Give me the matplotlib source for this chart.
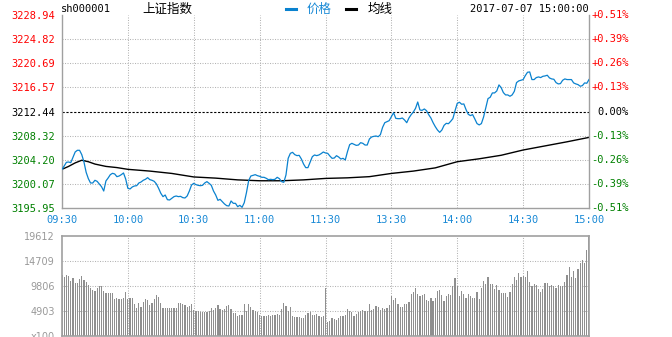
import numpy as np
import matplotlib.pyplot as plt
from matplotlib.lines import Line2D

W, H = 672, 337

price_ticks = [3195.95, 3200.07, 3204.20, 3208.32, 3212.44, 3216.57, 3220.69, 3224.82, 3228.94]
pct_labels = ['-0.51%', '-0.39%', '-0.26%', '-0.13%', '0.00%', '+0.13%', '+0.26%', '+0.39%', '+0.51%']
time_labels = ['09:30', '10:00', '10:30', '11:00', '11:30', '13:30', '14:00', '14:30', '15:00']
vol_ticks = [0, 4903, 9806, 14709, 19612]
vol_tick_labels = ['x100', '4903', '9806', '14709', '19612']
prev_close = 3212.44

# one value per minute, 09:30 .. 11:30
price_am = [
    3202.60, 3203.17, 3203.80, 3203.85, 3203.74, 3204.65, 3205.56, 3205.85, 3205.85, 3205.11,
    3203.85, 3202.09, 3201.01, 3200.27, 3200.27, 3200.73, 3200.55, 3200.10, 3199.64, 3198.90,
    3200.61, 3201.12, 3201.69, 3201.92, 3201.81, 3201.35, 3201.46, 3201.69, 3201.98, 3200.95,
    3199.36, 3199.25, 3199.59, 3199.76, 3199.81, 3200.27, 3200.44, 3200.73, 3200.90, 3201.18,
    3200.84, 3200.73, 3200.55, 3200.10, 3199.36, 3198.51, 3197.94, 3198.22, 3197.42, 3197.37,
    3197.65, 3197.94, 3198.05, 3197.94, 3197.99, 3197.77, 3197.71, 3198.05, 3198.90, 3199.93,
    3200.21, 3199.99, 3199.87, 3199.81, 3199.87, 3200.27, 3200.50, 3200.21, 3199.87, 3198.90,
    3198.22, 3197.31, 3197.48, 3197.08, 3196.69, 3196.40, 3196.34, 3197.20, 3196.80, 3196.80,
    3196.23, 3196.46, 3196.12, 3196.91, 3198.62, 3200.67, 3201.46, 3201.58, 3201.69, 3201.52,
    3201.41, 3201.24, 3201.24, 3201.07, 3200.84, 3200.90, 3200.84, 3200.90, 3201.24, 3201.01,
    3200.50, 3200.38, 3201.64, 3204.48, 3205.33, 3205.50, 3205.11, 3204.94, 3204.99, 3204.37,
    3203.51, 3202.89, 3202.89, 3203.85, 3204.76, 3205.05, 3204.94, 3205.05, 3205.28, 3205.56,
    3205.39,
]
# 13:01 .. 15:00
price_pm = [
    3205.33, 3204.87, 3204.48, 3204.53, 3204.93, 3204.70, 3204.36, 3204.48, 3204.19, 3205.61,
    3206.81, 3207.04, 3206.87, 3206.69, 3206.75, 3207.15, 3207.04, 3206.75, 3206.75, 3207.78,
    3208.12, 3208.23, 3208.29, 3208.17, 3208.52, 3209.77, 3210.56, 3210.73, 3210.91, 3211.59,
    3212.27, 3211.30, 3211.25, 3211.25, 3211.36, 3211.02, 3210.56, 3211.36, 3211.93, 3212.38,
    3213.01, 3214.09, 3212.73, 3212.67, 3212.90, 3212.61, 3211.93, 3211.36, 3210.56, 3209.88,
    3209.31, 3208.91, 3209.31, 3210.11, 3210.45, 3210.39, 3210.79, 3211.25, 3212.61, 3213.86,
    3214.05, 3213.71, 3213.76, 3212.79, 3212.00, 3211.77, 3211.94, 3211.20, 3210.41, 3210.18,
    3210.41, 3211.54, 3213.08, 3214.67, 3214.90, 3215.64, 3215.64, 3215.98, 3217.01, 3216.55,
    3215.70, 3215.30, 3215.30, 3215.07, 3215.30, 3215.92, 3217.40, 3217.69, 3217.80, 3217.92,
    3218.60, 3219.17, 3219.22, 3217.92, 3217.92, 3218.26, 3218.37, 3218.26, 3218.48, 3218.54,
    3218.66, 3218.20, 3218.03, 3217.97, 3217.40, 3217.18, 3217.23, 3217.80, 3218.03, 3217.92,
    3217.92, 3217.92, 3217.35, 3217.18, 3217.06, 3216.78, 3216.89, 3217.35, 3217.29, 3217.92,
]

avg_minutes = [0, 3, 6, 9, 12, 15, 20, 25, 30, 40, 50, 60, 70, 80, 90, 100, 110, 120,
               130, 140, 150, 160, 170, 180, 190, 200, 210, 220, 230, 240]
avg_values = [3202.6, 3203.1, 3203.7, 3204.15, 3203.9, 3203.5, 3203.1, 3202.9, 3202.6,
              3202.3, 3201.9, 3201.3, 3201.1, 3200.8, 3200.65, 3200.65, 3200.8, 3201.05,
              3201.15, 3201.35, 3201.9, 3202.3, 3202.85, 3203.9, 3204.4, 3205.0, 3205.9,
              3206.6, 3207.3, 3208.05]

# volume, x100 shares
vol_am = [
    11963, 11570, 11963, 11767, 10786, 11374, 10394, 10394, 11178, 11767,
    10982, 10590, 10002, 9413, 9021, 8825, 9413, 9806, 9806, 8825,
    8433, 8433, 8433, 8433, 7256, 7452, 7256, 7256, 7452, 8629,
    7256, 7452, 7452, 6276, 5491, 6472, 5687, 6668, 7256, 7060,
    6079, 6472, 7256, 8041, 7648, 6472, 5491, 5491, 5491, 5491,
    5491, 5491, 5491, 6472, 6472, 6276, 6079, 5687, 5883, 6276,
    5099, 4903, 4903, 4707, 4707, 4707, 4707, 4903, 5491, 5099,
    5491, 6079, 5295, 5099, 5295, 5883, 6079, 5295, 4511, 4511,
    3922, 4118, 4118, 6276, 4903, 6276, 5687, 5099, 4903, 4707,
    4118, 3922, 3922, 3922, 4118, 3922, 4118, 4118, 4314, 4118,
    5295, 6472, 5883, 4903, 5687, 3922, 3726, 3726, 3726, 3530,
    3530, 4118, 4511, 4707, 4118, 4118, 4314, 3922, 3726, 3922,
]
vol_noon = 9350
vol_pm = [
    2746, 2942, 3530, 3334, 3138, 3530, 3922, 3922, 4118, 5295,
    4903, 4707, 3922, 4314, 4707, 4903, 5099, 4903, 4903, 6276,
    5099, 5295, 5883, 5687, 5099, 5491, 5295, 5491, 6079, 7844,
    7060, 7452, 6276, 5687, 5687, 6276, 6276, 6668, 8237, 8629,
    9413, 8237, 7844, 8041, 8237, 7060, 6864, 7452, 6864, 7452,
    8825, 9021, 8041, 6864, 7844, 8237, 8041, 9806, 11374, 9806,
    7844, 8825, 8237, 7452, 8237, 7844, 7452, 7452, 8629, 7256,
    9413, 10786, 10198, 11570, 10198, 10198, 9217, 10002, 9021, 8433,
    8433, 8433, 7648, 8629, 10198, 11570, 10982, 12355, 11570, 11767,
    11570, 12747, 10590, 9806, 10198, 10002, 9217, 8629, 9217, 10394,
    10394, 9806, 10002, 9806, 9413, 10002, 9806, 9806, 10590, 11963,
    13532, 11570, 12747, 11374, 13139, 14316, 14904, 14316, 16865, 19415,
]

price = np.array(price_am + price_pm)
volume = np.array(vol_am + [vol_noon] + vol_pm)
minutes = np.arange(len(price))

RED, GREEN, BLUE, GREY = '#ff0000', '#008000', '#1a8ad6', '#8f8f8f'
MONO = 'DejaVu Sans Mono'
plt.rcParams['font.family'] = ['DejaVu Sans', 'Noto Sans CJK SC']

fig = plt.figure(figsize=(W / 100, H / 100), dpi=100)


def px_axes(left, top, right, bottom):
    return fig.add_axes([left / W, 1 - bottom / H, (right - left) / W, (bottom - top) / H])


grid_kw = dict(color='#b4b4b4', linewidth=0.75, linestyle=(0, (1, 1.4)), zorder=0)

# price panel
ax = px_axes(62, 15, 589, 208.3)
ax.plot(minutes, price, color='#0a82cf', linewidth=0.9, zorder=3)
ax.plot(avg_minutes, avg_values, color='black', linewidth=1.0, zorder=2)
ax.set_xlim(0, 240)
ax.set_ylim(price_ticks[0], price_ticks[-1])
for t in price_ticks[1:-1]:
    if abs(t - prev_close) < 1e-6:
        ax.axhline(t, color='black', linewidth=0.8, linestyle=(0, (2, 1.5)), zorder=1)
    else:
        ax.axhline(t, **grid_kw)
for m in range(30, 240, 30):
    ax.axvline(m, **grid_kw)
ax.set_yticks(price_ticks)
ax.set_yticklabels(['%.2f' % t for t in price_ticks], fontfamily=MONO, fontsize=7.5)
for lab, t in zip(ax.get_yticklabels(), price_ticks):
    lab.set_color(RED if t > prev_close + 1e-6 else (GREEN if t < prev_close - 1e-6 else 'black'))
for lab, t in zip(pct_labels, price_ticks):
    c = RED if lab.startswith('+') else (GREEN if lab.startswith('-') else 'black')
    ax.text(1.0759, t, lab, transform=ax.get_yaxis_transform(), ha='right', va='center',
            color=c, fontfamily=MONO, fontsize=7.5)
ax.set_xticks(range(0, 241, 30))
ax.set_xticklabels(time_labels, fontfamily=MONO, fontsize=7.5, color=BLUE)
ax.tick_params(length=0, pad=5)
ax.spines['top'].set_visible(False)
for s in ('left', 'right', 'bottom'):
    ax.spines[s].set_color('#a0a0a0')
    ax.spines[s].set_linewidth(1.0)

# volume panel
av = px_axes(62, 236, 589, 336)
av.bar(np.arange(len(volume)), volume, width=0.55, color=GREY, linewidth=0, zorder=2)
av.set_xlim(0, 240)
av.set_ylim(0, vol_ticks[-1])
for t in vol_ticks[1:-1]:
    av.axhline(t, **grid_kw)
for m in range(30, 240, 30):
    av.axvline(m, **grid_kw)
av.set_xticks([])
av.set_yticks(vol_ticks)
av.set_yticklabels(vol_tick_labels, fontsize=7, color='#999999')
av.tick_params(length=0, pad=5)
for s in av.spines.values():
    s.set_color('#a0a0a0')
    s.set_linewidth(1.2)

# header
ty = 1 - 9 / H
fig.text(61 / W, ty, 'sh000001', fontfamily=MONO, fontsize=7.5, va='center')
fig.text(167 / W, ty, '上证指数', fontfamily=['Noto Sans CJK SC'], fontsize=9, ha='center', va='center')
fig.add_artist(Line2D([286 / W, 296 / W], [ty, ty], color='#0a82cf', linewidth=2.2))
fig.text(307 / W, ty, '价格', fontfamily=['Noto Sans CJK SC'], fontsize=9, color=BLUE, va='center')
fig.add_artist(Line2D([346 / W, 356 / W], [ty, ty], color='black', linewidth=2.2))
fig.text(368 / W, ty, '均线', fontfamily=['Noto Sans CJK SC'], fontsize=9, va='center')
fig.text(589 / W, ty, '2017-07-07 15:00:00', fontfamily=MONO, fontsize=7.5, ha='right', va='center')

fig.savefig('out.png', dpi=100)
